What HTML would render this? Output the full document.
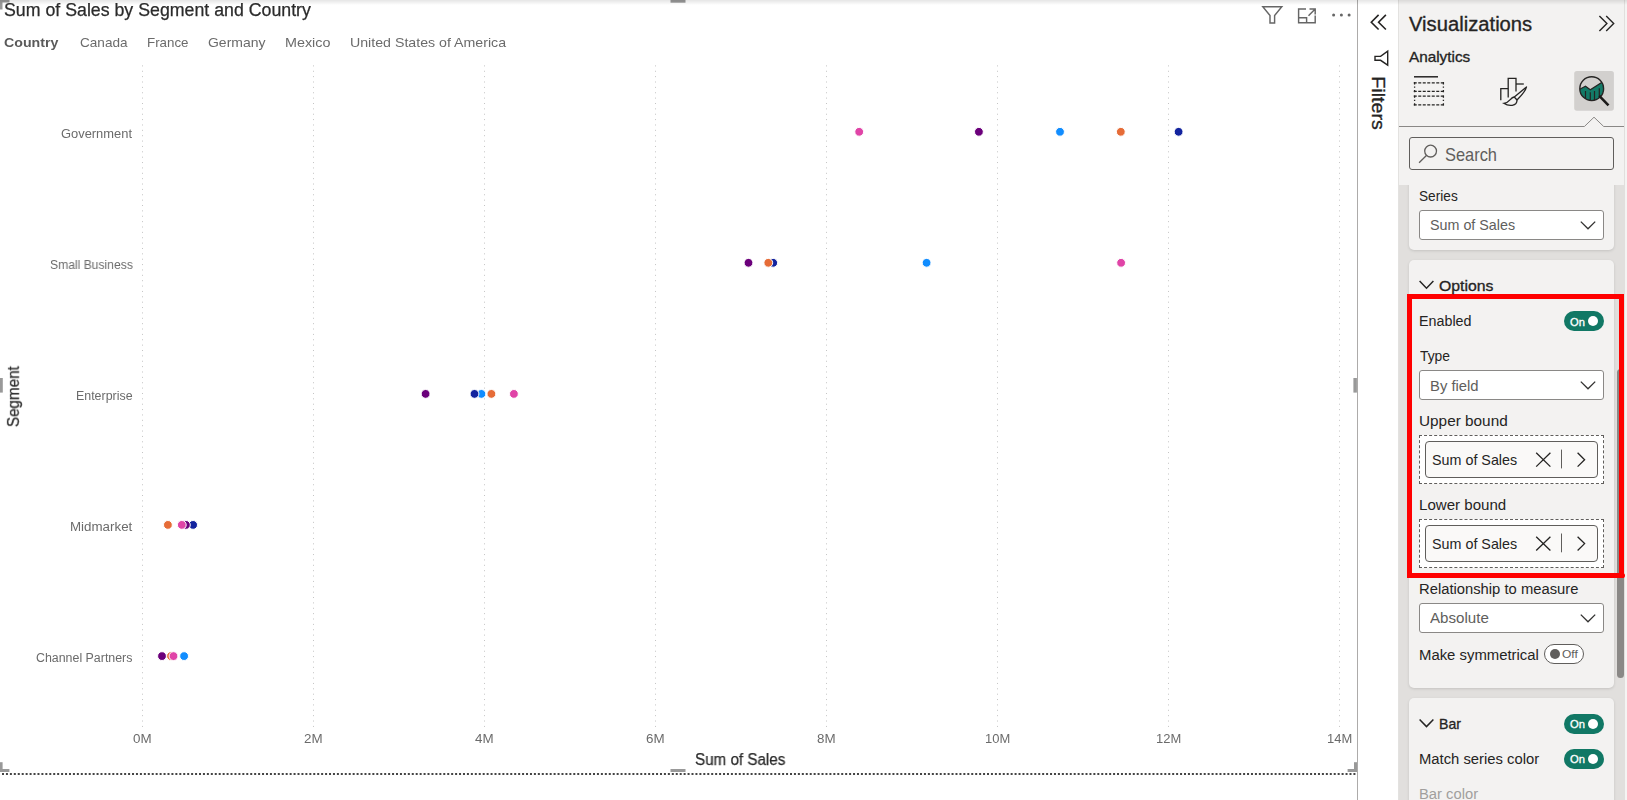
<!DOCTYPE html>
<html>
<head>
<meta charset="utf-8">
<title>Power BI - Error bars</title>
<style>
html,body{margin:0;padding:0}
body{width:1627px;height:800px;position:relative;overflow:hidden;background:#fff;font-family:"Liberation Sans",sans-serif}
.a{position:absolute}
.t{position:absolute;white-space:pre;line-height:normal;display:block}
.g{will-change:transform}
.card{position:absolute;left:1409px;width:205px;background:#f3f2f1;border-radius:5px;box-shadow:0 1px 3px rgba(0,0,0,.13)}
.dd{position:absolute;left:1419px;width:185px;height:30px;box-sizing:border-box;background:#fff;border:1px solid #8a8886;border-radius:3px}
.well{position:absolute;left:1419px;width:185px;height:49px;box-sizing:border-box;background:#fff;border:1px dashed #605e5c}
.pill{position:absolute;left:1425px;width:173px;height:37px;box-sizing:border-box;background:#faf9f8;border:1px solid #605e5c;border-radius:4px}
.on{position:absolute;width:40px;height:20px;border-radius:10px;background:#117865}
.on i{position:absolute;left:24px;top:5px;width:10px;height:10px;border-radius:5px;background:#fff}
.off{position:absolute;width:40px;height:20px;border-radius:10px;background:#fff;box-sizing:border-box;border:1px solid #605e5c}
.off i{position:absolute;left:5px;top:4px;width:10px;height:10px;border-radius:5px;background:#605e5c}
</style>
</head>
<body>

<!-- ================= CHART ================= -->
<svg class="a" style="left:0;top:0" width="1358" height="800" viewBox="0 0 1358 800">
  <!-- gridlines -->
  <g stroke="#c4c4c4" stroke-width="1" stroke-dasharray="1 4.37" fill="none">
    <path d="M142.5 65.4V727.5"/><path d="M313.5 65.4V727.5"/><path d="M484.5 65.4V727.5"/><path d="M655.5 65.4V727.5"/>
    <path d="M826.5 65.4V727.5"/><path d="M997.5 65.4V727.5"/><path d="M1168.5 65.4V727.5"/><path d="M1339.5 65.4V727.5"/>
  </g>
  <!-- dots -->
  <g stroke="#fff" stroke-width="1">
    <!-- Government -->
    <circle cx="1060" cy="131.8" r="4.4" fill="#118DFF"/>
    <circle cx="1178.6" cy="131.8" r="4.4" fill="#12239E"/>
    <circle cx="1120.8" cy="131.8" r="4.4" fill="#E66C37"/>
    <circle cx="978.9" cy="131.8" r="4.4" fill="#6B007B"/>
    <circle cx="859.2" cy="131.8" r="4.4" fill="#E044A7"/>
    <!-- Small Business -->
    <circle cx="926.6" cy="262.8" r="4.4" fill="#118DFF"/>
    <circle cx="773.2" cy="262.8" r="4.4" fill="#12239E"/>
    <circle cx="768.3" cy="262.8" r="4.4" fill="#E66C37"/>
    <circle cx="748.5" cy="262.8" r="4.4" fill="#6B007B"/>
    <circle cx="1121.1" cy="262.8" r="4.4" fill="#E044A7"/>
    <!-- Enterprise -->
    <circle cx="481.4" cy="393.9" r="4.4" fill="#118DFF"/>
    <circle cx="474.5" cy="393.9" r="4.4" fill="#12239E"/>
    <circle cx="491.4" cy="393.9" r="4.4" fill="#E66C37"/>
    <circle cx="425.6" cy="393.9" r="4.4" fill="#6B007B"/>
    <circle cx="513.9" cy="393.9" r="4.4" fill="#E044A7"/>
    <!-- Midmarket -->
    <circle cx="193.1" cy="524.9" r="4.4" fill="#12239E"/>
    <circle cx="167.9" cy="524.9" r="4.4" fill="#E66C37"/>
    <circle cx="185.9" cy="524.9" r="4.4" fill="#6B007B"/>
    <circle cx="181.8" cy="524.9" r="4.4" fill="#E044A7"/>
    <!-- Channel Partners -->
    <circle cx="184.1" cy="656.1" r="4.4" fill="#118DFF"/>
    <circle cx="171" cy="656.1" r="4.4" fill="#E66C37"/>
    <circle cx="162" cy="656.1" r="4.4" fill="#6B007B"/>
    <circle cx="173.5" cy="656.1" r="4.4" fill="#E044A7"/>
  </g>
  <!-- selection handles -->
  <g fill="#999">
    <rect x="0" y="0" width="9.5" height="2.5"/><rect x="0" y="0" width="2.5" height="9.5"/>
    <rect x="670.5" y="0" width="15" height="2.7"/>
    <rect x="0" y="378" width="2.8" height="14.6"/>
    <rect x="1353.4" y="378" width="3.5" height="14.6"/>
    <rect x="0" y="762.2" width="2.6" height="9.8"/><rect x="0" y="769" width="9.4" height="3"/>
    <rect x="670.5" y="769" width="15" height="3"/>
    <rect x="1354" y="762.2" width="3" height="9.8"/><rect x="1347.6" y="769" width="9.4" height="3"/>
  </g>
  <!-- dotted selection border (bottom) -->
  <path d="M2 774H1357" stroke="#444" stroke-width="2" stroke-dasharray="2 1.94" fill="none"/>
  <!-- canvas / pane divider -->
  <rect x="1357" y="0" width="1" height="800" fill="#adabaa"/>
  <!-- header icons -->
  <g fill="none" stroke="#666" stroke-width="1.45">
    <!-- filter -->
    <path d="M1262.8 6.7H1281.8L1274.6 15.6V23H1270V15.6Z" stroke-linejoin="miter"/>
    <!-- focus mode -->
    <path d="M1306 9H1298.6V22.8H1315.2V15.5"/>
    <path d="M1298.6 17.7H1306.6V22.8"/>
    <path d="M1309.5 9H1315.2V14.5M1315.2 9L1308.5 15.8"/>
  </g>
  <g fill="#666"><circle cx="1333.6" cy="14.9" r="1.5"/><circle cx="1341.4" cy="14.9" r="1.5"/><circle cx="1349.1" cy="14.9" r="1.5"/></g>
</svg>

<!-- ================= FILTERS (collapsed) ================= -->
<svg class="a" style="left:1358px;top:0" width="41" height="140" viewBox="1358 0 41 140">
  <g fill="none" stroke="#252423" stroke-width="1.4">
    <path d="M1378.6 14.9L1371.3 22.2L1378.6 29.5M1385.9 14.9L1378.6 22.2L1385.9 29.5" stroke-width="1.6"/>
    <!-- rotated funnel -->
    <path d="M1387.7 51.2V65.2L1380.6 60.3H1375V56.4H1380.6Z" stroke-linejoin="miter"/>
  </g>
</svg>

<!-- ================= VISUALIZATIONS PANE ================= -->
<div class="a" style="left:1398px;top:0;width:1px;height:800px;background:#e3e2e0"></div>
<div class="a" style="left:1399px;top:0;width:225px;height:800px;background:#f3f2f1"></div>
<div class="a" style="left:1624px;top:0;width:1px;height:800px;background:#e1dfdd"></div>
<div class="a" style="left:1625px;top:0;width:2px;height:800px;background:#f5f4f3"></div>
<!-- scroll gutter -->
<div class="a" style="left:1399px;top:185px;width:225px;height:615px;background:#e1dfdd"></div>

<!-- cards -->
<div class="card" style="top:180px;height:70px;border-radius:0 0 5px 5px"></div>
<div class="card" style="top:260px;height:427.5px"></div>
<div class="card" style="top:698px;height:120px"></div>
<!-- cover the top of the scroll area so the first card looks clipped -->
<div class="a" style="left:1399px;top:127px;width:225px;height:58px;background:#f3f2f1"></div>

<!-- header icons of pane -->
<svg class="a" style="left:1399px;top:0" width="226" height="135" viewBox="1399 0 226 135">
  <!-- >> -->
  <path d="M1599.4 15.9L1606.9 23.4L1599.4 30.9M1606.2 15.9L1613.7 23.4L1606.2 30.9" fill="none" stroke="#252423" stroke-width="1.4"/>
  <!-- fields icon -->
  <g fill="none" stroke="#252423" stroke-width="1.3">
    <path d="M1414 76.8H1438" stroke-width="1.5"/>
    <g stroke-dasharray="3 1.5">
      <path d="M1413.75 82.8H1443.75M1413.75 91.4H1443.75M1413.75 96.1H1443.75M1413.75 104.9H1443.75"/>
    </g>
    <g stroke-dasharray="2.3 2.15 1.2 2.15 2.3 100">
      <path d="M1414.6 82.1V92.2M1443.4 82.1V92.2M1414.6 95.4V105.5M1443.4 95.4V105.5"/>
    </g>
  </g>
  <!-- format icon -->
  <g fill="none" stroke="#252423" stroke-width="1.3">
    <path d="M1500.8 100.2V88.6H1508.2"/>
    <path d="M1508.2 97.6V78.3H1516V91.6"/>
    <path d="M1516 84H1523.8"/>
    <path d="M1517 100L1514.3 97L1526.5 87C1526 90 1523.2 93.6 1517 100" stroke-linejoin="round"/>
    <path d="M1514.3 97C1509.8 97.6 1510.6 102.4 1503.8 103.3C1508.5 106.4 1517.2 106.6 1517 100"/>
  </g>
  <!-- analytics (selected) -->
  <rect x="1574.2" y="71.1" width="39.7" height="39.6" rx="2.6" fill="#d2d0ce"/>
  <clipPath id="mag"><circle cx="1591.7" cy="88.7" r="11.8"/></clipPath>
  <g clip-path="url(#mag)">
    <path d="M1577 90.6L1585.5 86.3L1590.3 89.7L1605 80.3V104H1577Z" fill="#137a67"/>
    <path d="M1585.5 91V99M1590.3 92.2V101M1594.5 91V101M1599.3 88.2V97" stroke="#252423" stroke-width="1.2" fill="none"/>
    <path d="M1577 90.6L1585.5 86.3L1590.3 89.7L1605 80.3" fill="none" stroke="#252423" stroke-width="1.2"/>
  </g>
  <circle cx="1591.7" cy="88.7" r="11.9" fill="none" stroke="#252423" stroke-width="1.4"/>
  <path d="M1600.2 96.8L1607.6 104.4" stroke="#1b1a19" stroke-width="2.6" fill="none" stroke-linecap="square"/>
  <!-- divider with notch -->
  <path d="M1399 126.5H1584.4L1594 117.2L1603.7 126.5H1624" fill="none" stroke="#8a8886" stroke-width="1"/>
</svg>

<!-- search box -->
<div class="a" style="left:1409px;top:137px;width:205px;height:33px;box-sizing:border-box;border:1px solid #605e5c;border-radius:3px;background:#f3f2f1"></div>
<svg class="a" style="left:1415px;top:142px" width="26" height="24" viewBox="1415 142 26 24">
  <circle cx="1430.6" cy="151.1" r="5.9" fill="none" stroke="#605e5c" stroke-width="1.3"/>
  <path d="M1426.4 155.5L1419.1 162.8" stroke="#605e5c" stroke-width="1.3" fill="none"/>
</svg>

<!-- Series dropdown -->
<div class="dd" style="top:210px"></div>
<!-- Type dropdown -->
<div class="dd" style="top:370px"></div>
<!-- Relationship dropdown -->
<div class="dd" style="top:603px"></div>
<svg class="a" style="left:1399px;top:185px" width="226" height="615" viewBox="1399 185 226 615">
  <g fill="none" stroke="#323130" stroke-width="1.3">
    <!-- dropdown chevrons -->
    <path d="M1580.8 221.6L1588 228.8L1595.2 221.6"/>
    <path d="M1580.8 381.6L1588 388.8L1595.2 381.6"/>
    <path d="M1580.8 614.6L1588 621.8L1595.2 614.6"/>
  </g>
  <g fill="none" stroke="#252423" stroke-width="1.5">
    <!-- section chevrons -->
    <path d="M1419.6 281L1426.5 288.2L1433.4 281"/>
    <path d="M1419.6 719.4L1426.5 726.6L1433.4 719.4"/>
  </g>
</svg>

<!-- field wells -->
<div class="well" style="top:435px"></div>
<div class="pill" style="top:441px"></div>
<div class="well" style="top:519px"></div>
<div class="pill" style="top:525px"></div>
<svg class="a" style="left:1530px;top:440px" width="70" height="125" viewBox="1530 440 70 125">
  <g fill="none" stroke="#252423" stroke-width="1.3">
    <path d="M1536.2 452.8L1550.4 466.6M1550.4 452.8L1536.2 466.6"/>
    <path d="M1577.6 452.8L1584.6 459.7L1577.6 466.6"/>
    <path d="M1536.2 536.7L1550.4 550.5M1550.4 536.7L1536.2 550.5"/>
    <path d="M1577.6 536.7L1584.6 543.6L1577.6 550.5"/>
  </g>
  <g stroke="#605e5c" stroke-width="1"><path d="M1561.5 449.6V468.4M1561.5 533.5V552.3"/></g>
</svg>

<!-- toggles -->
<div class="on" style="left:1564px;top:311px"><i></i></div>
<div class="off" style="left:1544px;top:644px"><i></i></div>
<div class="on" style="left:1564px;top:714px"><i></i></div>
<div class="on" style="left:1564px;top:749.3px"><i></i></div>

<!-- scrollbar thumb -->
<div class="a" style="left:1617px;top:369px;width:7px;height:308.5px;background:#8a8886;border-radius:3.5px"></div>

<!-- red annotation rectangle -->
<div class="a" style="left:1407px;top:294.3px;width:217.2px;height:283.4px;box-sizing:border-box;border:5.1px solid #ff0000"></div>
<div class="a" style="left:1619px;top:572.5px;width:6px;height:5.6px;background:#ff0000;border-radius:0 3px 3px 0"></div>

<!-- top shadow -->
<div class="a" style="left:0;top:0;width:1627px;height:5px;background:linear-gradient(rgba(0,0,0,.10),rgba(0,0,0,0))"></div>

<!-- ================= TEXT ================= -->
<span class="t g" style="left:3.79px;top:0.17px;transform-origin:0 0;transform:scaleX(1.0089);font-size:17.6px;color:#2b2b2b;font-weight:400;-webkit-text-stroke:0.25px currentColor;">Sum of Sales by Segment and Country</span>
<span class="t g" style="left:3.93px;top:34.66px;transform-origin:0 0;transform:scaleX(1.0664);font-size:13.3px;color:#5a5a5a;font-weight:700;">Country</span>
<span class="t g" style="left:80.46px;top:34.66px;transform-origin:0 0;transform:scaleX(1.0201);font-size:13.3px;color:#6b6b6b;font-weight:400;">Canada</span>
<span class="t g" style="left:147.27px;top:34.66px;transform-origin:0 0;transform:scaleX(1.0026);font-size:13.3px;color:#6b6b6b;font-weight:400;">France</span>
<span class="t g" style="left:208.24px;top:34.66px;transform-origin:0 0;transform:scaleX(1.0503);font-size:13.3px;color:#6b6b6b;font-weight:400;">Germany</span>
<span class="t g" style="left:284.83px;top:34.66px;transform-origin:0 0;transform:scaleX(1.0792);font-size:13.3px;color:#6b6b6b;font-weight:400;">Mexico</span>
<span class="t g" style="left:349.83px;top:34.66px;transform-origin:0 0;transform:scaleX(1.0663);font-size:13.3px;color:#6b6b6b;font-weight:400;">United States of America</span>
<span class="t g" style="left:61.38px;top:126.77px;transform-origin:0 0;transform:scaleX(1.0488);font-size:12.3px;color:#6b6b6b;font-weight:400;">Government</span>
<span class="t g" style="left:49.52px;top:257.87px;transform-origin:0 0;transform:scaleX(0.9853);font-size:12.3px;color:#6b6b6b;font-weight:400;">Small Business</span>
<span class="t g" style="left:76.00px;top:388.97px;transform-origin:0 0;transform:scaleX(1.0089);font-size:12.3px;color:#6b6b6b;font-weight:400;">Enterprise</span>
<span class="t g" style="left:70.07px;top:520.07px;transform-origin:0 0;transform:scaleX(1.0853);font-size:12.3px;color:#6b6b6b;font-weight:400;">Midmarket</span>
<span class="t g" style="left:35.90px;top:651.27px;transform-origin:0 0;transform:scaleX(1.0077);font-size:12.3px;color:#6b6b6b;font-weight:400;">Channel Partners</span>
<span class="t g" style="left:133.06px;top:732.07px;transform-origin:0 0;transform:scaleX(1.0883);font-size:12.3px;color:#6b6b6b;font-weight:400;">0M</span>
<span class="t g" style="left:304.06px;top:732.07px;transform-origin:0 0;transform:scaleX(1.0883);font-size:12.3px;color:#6b6b6b;font-weight:400;">2M</span>
<span class="t g" style="left:475.06px;top:732.07px;transform-origin:0 0;transform:scaleX(1.0883);font-size:12.3px;color:#6b6b6b;font-weight:400;">4M</span>
<span class="t g" style="left:646.06px;top:732.07px;transform-origin:0 0;transform:scaleX(1.0883);font-size:12.3px;color:#6b6b6b;font-weight:400;">6M</span>
<span class="t g" style="left:817.06px;top:732.07px;transform-origin:0 0;transform:scaleX(1.0883);font-size:12.3px;color:#6b6b6b;font-weight:400;">8M</span>
<span class="t g" style="left:984.78px;top:732.07px;transform-origin:0 0;transform:scaleX(1.0525);font-size:12.3px;color:#6b6b6b;font-weight:400;">10M</span>
<span class="t g" style="left:1155.78px;top:732.07px;transform-origin:0 0;transform:scaleX(1.0525);font-size:12.3px;color:#6b6b6b;font-weight:400;">12M</span>
<span class="t g" style="left:1326.78px;top:732.07px;transform-origin:0 0;transform:scaleX(1.0525);font-size:12.3px;color:#6b6b6b;font-weight:400;">14M</span>
<span class="t g" style="left:695.19px;top:751.08px;transform-origin:0 0;transform:scaleX(0.9737);font-size:15.6px;color:#2b2b2b;font-weight:400;-webkit-text-stroke:0.25px currentColor;">Sum of Sales</span>
<span class="t g" style="left:19.00px;top:412.79px;transform-origin:0 14.12px;transform:rotate(-90deg) scaleX(0.9758);font-size:15.6px;color:#2b2b2b;font-weight:400;-webkit-text-stroke:0.25px currentColor;">Segment</span>
<span class="t" style="left:1371.60px;top:60.12px;transform-origin:0 16.29px;transform:rotate(90deg) scaleX(1.0914);font-size:18px;color:#252423;font-weight:400;-webkit-text-stroke:0.32px currentColor;">Filters</span>
<span class="t" style="left:1409.39px;top:13.46px;transform-origin:0 0;transform:scaleX(1.0315);font-size:19.6px;color:#252423;font-weight:400;-webkit-text-stroke:0.32px currentColor;">Visualizations</span>
<span class="t" style="left:1408.79px;top:49.11px;transform-origin:0 0;transform:scaleX(1.0338);font-size:14.8px;color:#252423;font-weight:400;-webkit-text-stroke:0.32px currentColor;">Analytics</span>
<span class="t" style="left:1444.64px;top:144.53px;transform-origin:0 0;transform:scaleX(0.9019);font-size:18.2px;color:#605e5c;font-weight:400;">Search</span>
<span class="t" style="left:1418.85px;top:187.45px;transform-origin:0 0;transform:scaleX(0.8930);font-size:15.3px;color:#252423;font-weight:400;">Series</span>
<span class="t" style="left:1429.73px;top:216.91px;transform-origin:0 0;transform:scaleX(0.9664);font-size:14.8px;color:#605e5c;font-weight:400;">Sum of Sales</span>
<span class="t" style="left:1438.77px;top:276.82px;transform-origin:0 0;transform:scaleX(1.0531);font-size:15.0px;color:#252423;font-weight:400;-webkit-text-stroke:0.32px currentColor;">Options</span>
<span class="t" style="left:1418.83px;top:312.15px;transform-origin:0 0;transform:scaleX(0.9344);font-size:15.3px;color:#252423;font-weight:400;">Enabled</span>
<span class="t" style="left:1569.95px;top:316.05px;transform-origin:0 0;transform:scaleX(1.0123);font-size:11px;color:#fff;font-weight:400;-webkit-text-stroke:0.32px currentColor;">On</span>
<span class="t" style="left:1419.65px;top:347.45px;transform-origin:0 0;transform:scaleX(0.9053);font-size:15.3px;color:#252423;font-weight:400;">Type</span>
<span class="t" style="left:1429.71px;top:377.61px;transform-origin:0 0;transform:scaleX(1.0012);font-size:14.8px;color:#605e5c;font-weight:400;">By field</span>
<span class="t" style="left:1418.79px;top:412.15px;transform-origin:0 0;transform:scaleX(1.0030);font-size:15.3px;color:#252423;font-weight:400;">Upper bound</span>
<span class="t" style="left:1432.43px;top:451.12px;transform-origin:0 0;transform:scaleX(0.9545);font-size:15.0px;color:#252423;font-weight:400;">Sum of Sales</span>
<span class="t" style="left:1418.80px;top:495.95px;transform-origin:0 0;transform:scaleX(0.9859);font-size:15.3px;color:#252423;font-weight:400;">Lower bound</span>
<span class="t" style="left:1432.43px;top:535.02px;transform-origin:0 0;transform:scaleX(0.9545);font-size:15.0px;color:#252423;font-weight:400;">Sum of Sales</span>
<span class="t" style="left:1418.81px;top:579.85px;transform-origin:0 0;transform:scaleX(0.9662);font-size:15.3px;color:#252423;font-weight:400;">Relationship to measure</span>
<span class="t" style="left:1429.70px;top:610.21px;transform-origin:0 0;transform:scaleX(1.0211);font-size:14.8px;color:#605e5c;font-weight:400;">Absolute</span>
<span class="t" style="left:1418.70px;top:645.55px;transform-origin:0 0;transform:scaleX(0.9728);font-size:15.3px;color:#252423;font-weight:400;">Make symmetrical</span>
<span class="t" style="left:1562.12px;top:647.94px;transform-origin:0 0;transform:scaleX(1.0923);font-size:11px;color:#605e5c;font-weight:400;">Off</span>
<span class="t" style="left:1439.04px;top:715.12px;transform-origin:0 0;transform:scaleX(0.9401);font-size:15.0px;color:#252423;font-weight:400;-webkit-text-stroke:0.32px currentColor;">Bar</span>
<span class="t" style="left:1570.05px;top:717.75px;transform-origin:0 0;transform:scaleX(1.0194);font-size:11px;color:#fff;font-weight:400;-webkit-text-stroke:0.32px currentColor;">On</span>
<span class="t" style="left:1418.71px;top:750.15px;transform-origin:0 0;transform:scaleX(0.9683);font-size:15.3px;color:#252423;font-weight:400;">Match series color</span>
<span class="t" style="left:1570.05px;top:753.34px;transform-origin:0 0;transform:scaleX(1.0194);font-size:11px;color:#fff;font-weight:400;-webkit-text-stroke:0.32px currentColor;">On</span>
<span class="t" style="left:1418.71px;top:785.15px;transform-origin:0 0;transform:scaleX(0.9668);font-size:15.3px;color:#a19f9d;font-weight:400;">Bar color</span>

</body>
</html>
